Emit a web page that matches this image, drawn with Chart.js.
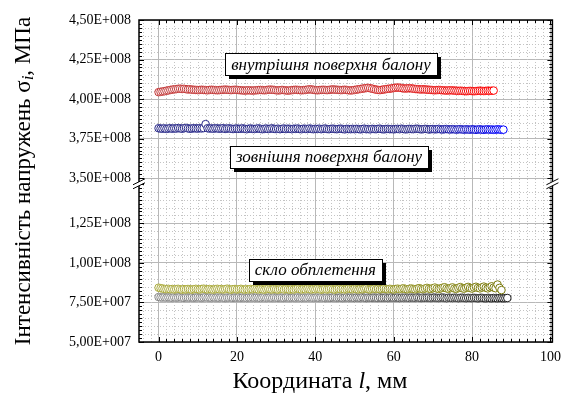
<!DOCTYPE html>
<html>
<head>
<meta charset="utf-8">
<script src="https://cdn.jsdelivr.net/npm/chart.js@4.4.1/dist/chart.umd.min.js"></script>
<style>
  body { margin: 0; background: #fff; }
  #wrap { width: 568px; height: 394px; }
</style>
</head>
<body>
<div id="wrap"><canvas id="chart"></canvas></div>
<script>
// readings every 0.5 mm along the cylinder, values in 1e6 Pa
const STEP = 0.5;

const innerSurface = [
  404.4,404.6,404.8,405.0,405.3,405.5,405.8,406.0,406.2,406.3,
  406.5,406.6,406.4,406.5,406.3,406.1,406.2,406.0,405.9,405.8,
  405.7,405.8,405.9,405.8,405.7,405.6,405.8,405.9,405.8,405.7,
  405.6,405.7,405.8,405.9,406.0,405.9,405.8,405.7,405.8,405.9,
  405.8,405.7,405.6,405.5,405.4,405.5,405.6,405.5,405.4,405.5,
  405.6,405.7,405.8,405.7,405.6,405.7,405.9,406.0,405.9,405.8,
  405.6,405.5,405.6,405.8,405.7,405.5,405.4,405.5,405.7,405.8,
  405.9,405.8,405.7,405.6,405.7,405.8,406.0,406.2,406.1,405.9,
  405.7,405.6,405.7,405.8,405.9,405.8,405.7,405.8,406.0,406.1,
  406.0,405.9,405.8,405.7,405.8,405.9,405.8,405.6,405.5,405.6,
  405.8,406.0,406.2,406.4,406.6,406.8,407.0,407.1,406.9,406.6,
  406.3,406.0,405.8,405.7,405.9,406.1,406.3,406.5,406.6,406.8,
  407.0,407.2,407.3,407.2,407.0,406.8,406.7,406.8,406.9,406.8,
  406.6,406.4,406.3,406.2,406.1,406.2,406.1,406.0,405.9,405.8,
  405.7,405.6,405.7,405.8,405.7,405.6,405.5,405.4,405.5,405.6,
  405.5,405.4,405.3,405.2,405.3,405.2,405.1,405.0,405.1,405.2,
  405.1,405.0,405.1,405.2,405.3,405.2,405.1,405.2,405.3,405.2,
  405.3,405.4
];

const outerSurface = [
  381.6,381.4,381.3,381.5,381.2,381.4,381.6,381.3,381.5,381.4,
  381.7,381.5,381.3,381.6,381.8,381.5,381.3,381.4,381.6,381.5,
  381.4,381.6,381.5,381.7,384.2,381.6,381.4,381.5,381.3,381.6,
  381.5,381.3,381.4,381.6,381.2,381.4,381.5,381.3,381.1,381.3,
  381.4,381.2,381.3,381.5,381.2,381.0,381.3,381.4,381.2,381.1,
  381.3,381.5,381.2,381.0,381.2,381.4,381.1,381.3,381.5,381.2,
  381.1,381.3,381.0,381.2,381.4,381.1,381.3,381.2,381.0,381.3,
  381.2,381.4,381.1,381.0,381.3,381.2,381.1,381.4,381.2,381.0,
  381.2,381.1,381.3,381.0,381.2,381.4,381.1,381.0,381.2,381.3,
  381.1,381.0,381.2,381.3,381.1,380.9,381.2,381.1,381.0,381.2,
  381.0,381.2,381.1,380.9,381.1,381.3,381.0,381.1,380.9,381.2,
  381.1,381.0,381.2,381.3,381.0,380.9,381.1,381.2,381.0,381.1,
  380.9,381.1,381.2,381.0,381.3,381.1,380.9,381.0,381.2,381.1,
  381.0,381.2,381.3,381.1,380.9,381.0,381.2,381.1,380.8,381.0,
  381.1,380.9,381.0,381.2,380.9,380.8,381.0,381.1,380.9,380.8,
  381.0,380.9,380.7,380.9,381.0,380.8,380.7,380.9,380.8,380.7,
  380.9,380.8,380.6,380.8,380.9,380.7,380.6,380.8,380.9,380.7,
  380.8,380.6,380.7,380.9,380.8,380.6,380.7
];

const glassBraid = [
  84.3,84.0,83.8,83.5,83.4,83.6,83.3,83.5,83.2,83.4,
  83.6,83.3,83.1,83.4,83.2,83.5,83.3,83.1,83.4,83.6,
  83.3,83.2,83.5,83.7,83.4,83.2,83.5,83.3,83.1,83.4,
  83.6,83.3,83.5,83.2,83.4,83.7,83.3,83.1,83.4,83.5,
  83.2,83.4,83.6,83.3,83.1,83.4,83.2,83.5,83.3,83.6,
  83.4,83.2,83.5,83.3,83.1,83.4,83.6,83.3,83.2,83.5,
  83.3,83.1,83.4,83.6,83.2,83.5,83.3,83.1,83.4,83.2,
  83.5,83.7,83.4,83.2,83.5,83.3,83.6,83.4,83.2,83.5,
  83.3,83.6,83.4,83.1,83.3,83.5,83.2,83.4,83.6,83.3,
  83.1,83.4,83.6,83.3,83.5,83.2,83.4,83.7,83.5,83.3,
  83.6,83.4,83.2,83.5,83.3,83.6,83.8,83.4,83.2,83.5,
  83.7,83.4,83.6,83.3,83.5,83.8,83.5,83.3,83.6,83.4,
  83.2,83.5,83.7,83.4,83.6,83.9,83.5,83.3,83.6,83.8,
  83.5,83.3,83.7,84.0,83.6,83.4,83.8,84.2,83.7,83.5,
  84.0,84.4,83.8,83.5,83.9,84.3,84.6,83.9,83.6,84.1,
  84.5,83.8,83.6,84.2,84.7,84.0,83.7,84.3,84.8,84.1,
  83.8,84.4,84.9,84.2,83.9,84.5,85.0,84.3,83.9,84.6,
  85.2,84.4,84.0,86.3,84.2,82.8
];

const glassGray = [
  78.4,78.2,78.1,78.3,78.0,78.2,78.1,77.9,78.2,78.0,
  78.1,78.3,78.0,77.9,78.2,78.1,78.0,78.2,77.9,78.1,
  78.2,78.0,77.9,78.1,78.3,78.0,78.1,77.9,78.2,78.0,
  78.1,77.9,78.2,78.0,77.8,78.1,78.0,78.2,77.9,78.1,
  78.0,78.2,77.9,78.1,78.0,77.8,78.1,78.0,78.2,77.9,
  78.1,78.0,77.8,78.1,78.2,77.9,78.0,78.1,77.9,78.2,
  78.0,77.9,78.1,78.0,77.8,78.1,78.2,77.9,78.0,78.1,
  77.9,78.2,78.0,77.8,78.1,78.0,77.9,78.2,78.1,77.9,
  78.0,78.1,77.9,78.2,78.0,77.8,78.1,78.0,77.9,78.1,
  78.2,77.9,78.0,78.1,77.8,78.0,78.2,77.9,78.1,78.0,
  77.8,78.1,78.0,77.9,78.2,78.0,77.8,78.1,78.0,77.9,
  78.1,78.0,77.8,78.2,77.9,78.0,78.1,77.8,78.0,78.2,
  77.9,78.0,78.1,77.8,78.0,77.9,78.1,78.0,77.8,78.1,
  78.0,77.9,78.2,78.0,77.8,78.1,77.9,78.0,78.1,77.8,
  78.0,78.1,77.9,77.8,78.0,78.1,77.9,77.7,78.0,77.9,
  77.8,78.0,77.9,77.7,77.9,78.0,77.8,77.7,77.9,77.8,
  77.7,77.9,77.8,77.6,77.8,77.9,77.7,77.6,77.8,77.7,
  77.6,77.8,77.7,77.6,77.8,77.7,77.6,77.7,77.8
];

const xTicks = [0, 20, 40, 60, 80, 100];
const yTicksTop = [350, 375, 400, 425, 450];
const yTicksBottom = [50, 75, 100, 125];

const notes = [
  {text: 'внутрішня поверхня балону', x: 44, y: 422, axis: 'yTop'},
  {text: 'зовнішня поверхня балону', x: 43.5, y: 363.5, axis: 'yTop'},
  {text: 'скло обплетення', x: 40, y: 95.8, axis: 'yBot'}
];

const SERIF = '"Liberation Serif", "Times New Roman", serif';

function toPoints(values) {
  return values.map((v, i) => ({x: i * STEP, y: v}));
}

// colour drifts along the series, like the original plot
function ramp(from, to, start) {
  return ctx => {
    const n = ctx.dataset.data.length;
    let t = (ctx.dataIndex / (n - 1) - start) / (1 - start);
    t = Math.max(0, Math.min(1, t));
    const c = from.map((f, i) => Math.round(f + (to[i] - f) * t));
    return `rgb(${c.join(',')})`;
  };
}

function sci(v) {
  const val = v * 1e6;
  const e = Math.floor(Math.log10(val) + 1e-9);
  const m = (val / Math.pow(10, e)).toFixed(2).replace('.', ',');
  return m + 'E+' + String(e).padStart(3, '0');
}

function fixedTicks(list) {
  return scale => { scale.ticks = list.map(v => ({value: v})); };
}

function series(data, axis, from, to, start) {
  return {
    data: toPoints(data),
    yAxisID: axis,
    showLine: false,
    pointRadius: 3.8,
    pointBorderWidth: 1,
    pointBackgroundColor: '#fff',
    pointBorderColor: ramp(from, to, start),
    pointHoverRadius: 3.8
  };
}

function richText(ctx, parts, x, y) {
  let total = 0;
  for (const p of parts) { ctx.font = p.font; total += ctx.measureText(p.text).width; }
  let cx = x - total / 2;
  for (const p of parts) {
    ctx.font = p.font;
    ctx.fillText(p.text, cx, y + (p.dy || 0));
    cx += ctx.measureText(p.text).width;
  }
}

const decor = {
  id: 'decor',
  beforeDatasetsDraw(chart) {
    const {ctx, chartArea: a, scales} = chart;
    ctx.save();
    ctx.strokeStyle = '#c4c4c4';
    ctx.lineWidth = 1;
    ctx.setLineDash([1, 2]);
    ctx.beginPath();
    for (let v = -4; v <= 100; v += 2) {
      if (v % 20 === 0) continue;
      const px = Math.round(scales.x.getPixelForValue(v)) + 0.5;
      ctx.moveTo(px, a.top); ctx.lineTo(px, a.bottom);
    }
    for (const [id, lo, hi] of [['yTop', 350, 450], ['yBot', 50, 150]]) {
      for (let v = lo; v <= hi; v += 5) {
        if (v % 25 === 0) continue;
        const py = Math.round(scales[id].getPixelForValue(v)) + 0.5;
        ctx.moveTo(a.left, py); ctx.lineTo(a.right, py);
      }
    }
    ctx.stroke();
    ctx.restore();
  },
  afterDatasetsDraw(chart) {
    const {ctx, chartArea: a, scales} = chart;
    ctx.save();
    // frame
    ctx.strokeStyle = '#000';
    ctx.lineWidth = 1.5;
    ctx.strokeRect(a.left, a.top, a.right - a.left, a.bottom - a.top);

    // inward ticks on all four sides
    ctx.lineWidth = 1;
    ctx.beginPath();
    for (let v = 0; v <= 100; v += 2) {
      const len = v % 20 === 0 ? 5 : 3;
      const px = Math.round(scales.x.getPixelForValue(v)) + 0.5;
      ctx.moveTo(px, a.bottom); ctx.lineTo(px, a.bottom - len);
      ctx.moveTo(px, a.top); ctx.lineTo(px, a.top + len);
    }
    for (const [id, lo, hi] of [['yTop', 350, 450], ['yBot', 50, 150]]) {
      for (let v = lo; v < hi + 0.1; v += 2.5) {
        const len = v % 25 === 0 ? 5 : 3;
        const py = Math.round(scales[id].getPixelForValue(v)) + 0.5;
        ctx.moveTo(a.left, py); ctx.lineTo(a.left + len, py);
        ctx.moveTo(a.right, py); ctx.lineTo(a.right - len, py);
      }
    }
    ctx.stroke();

    // axis break marks
    const yb = scales.yBot.top;
    for (const xb of [a.left, a.right]) {
      ctx.fillStyle = '#fff';
      ctx.beginPath();
      ctx.moveTo(xb - 6, yb + 1); ctx.lineTo(xb + 6, yb - 5);
      ctx.lineTo(xb + 6, yb - 1); ctx.lineTo(xb - 6, yb + 5);
      ctx.closePath();
      ctx.fill();
      ctx.beginPath();
      ctx.moveTo(xb - 6, yb + 1); ctx.lineTo(xb + 6, yb - 5);
      ctx.moveTo(xb - 6, yb + 5); ctx.lineTo(xb + 6, yb - 1);
      ctx.stroke();
    }

    // labels in boxes with a drop shadow
    ctx.font = 'italic 17px ' + SERIF;
    ctx.textAlign = 'center';
    ctx.textBaseline = 'middle';
    for (const n of notes) {
      const px = scales.x.getPixelForValue(n.x);
      const py = scales[n.axis].getPixelForValue(n.y);
      const w = Math.round(ctx.measureText(n.text).width + 12), h = 22;
      const l = Math.round(px - w / 2), t = Math.round(py - h / 2);
      ctx.fillStyle = '#000';
      ctx.fillRect(l + 4, t + 4, w, h);
      ctx.fillStyle = '#fff';
      ctx.fillRect(l, t, w, h);
      ctx.strokeRect(l + 0.5, t + 0.5, w, h);
      ctx.fillStyle = '#000';
      ctx.fillText(n.text, px, py + 1);
    }
    ctx.restore();
  },
  afterDraw(chart) {
    const {ctx, chartArea: a} = chart;
    ctx.save();
    ctx.fillStyle = '#000';
    ctx.textAlign = 'left';
    ctx.textBaseline = 'middle';
    richText(ctx, [
      {text: 'Координата ', font: '24px ' + SERIF},
      {text: 'l', font: 'italic 24px ' + SERIF},
      {text: ', мм', font: '24px ' + SERIF}
    ], 320, 382);

    ctx.translate(24, (a.top + a.bottom) / 2);
    ctx.rotate(-Math.PI / 2);
    richText(ctx, [
      {text: 'Інтенсивність напружень σ', font: '23px ' + SERIF},
      {text: 'i', font: 'italic 17px ' + SERIF, dy: 5},
      {text: ', МПа', font: '23px ' + SERIF}
    ], 0, 0);
    ctx.restore();
  }
};

const tickFont = {family: SERIF, size: 14};

new Chart(document.getElementById('chart'), {
  type: 'scatter',
  data: {
    datasets: [
      series(innerSurface, 'yTop', [195, 55, 55], [255, 0, 0], 0.55),
      series(outerSurface, 'yTop', [40, 40, 135], [0, 0, 255], 0.78),
      series(glassBraid, 'yBot', [170, 170, 60], [120, 120, 10], 0.5),
      series(glassGray, 'yBot', [135, 135, 135], [30, 30, 30], 0.45)
    ]
  },
  options: {
    responsive: true,
    maintainAspectRatio: false,
    animation: false,
    events: [],
    layout: {padding: {top: 20, right: 12, left: 0, bottom: 0}},
    plugins: {legend: {display: false}, tooltip: {enabled: false}},
    scales: {
      x: {
        type: 'linear',
        min: -5,
        max: 100.5,
        afterBuildTicks: fixedTicks(xTicks),
        afterFit: s => { s.height = 52; },
        grid: {color: '#b8b8b8', drawTicks: false},
        border: {display: false},
        ticks: {padding: 7, color: '#000', font: tickFont}
      },
      yBot: {
        axis: 'y',
        type: 'linear',
        position: 'left',
        stack: 'broken',
        stackWeight: 100,
        min: 50,
        max: 150,
        afterBuildTicks: fixedTicks(yTicksBottom),
        afterFit: s => { s.width = 139; },
        grid: {color: '#b8b8b8', drawTicks: false},
        border: {display: false},
        ticks: {padding: 8, color: '#000', font: tickFont, callback: sci}
      },
      yTop: {
        axis: 'y',
        type: 'linear',
        position: 'left',
        stack: 'broken',
        stackWeight: 103.5,
        min: 346.5,
        max: 450,
        afterBuildTicks: fixedTicks(yTicksTop),
        afterFit: s => { s.width = 139; },
        grid: {color: '#b8b8b8', drawTicks: false},
        border: {display: false},
        ticks: {padding: 8, color: '#000', font: tickFont, callback: sci}
      }
    }
  },
  plugins: [decor]
});
</script>
</body>
</html>
